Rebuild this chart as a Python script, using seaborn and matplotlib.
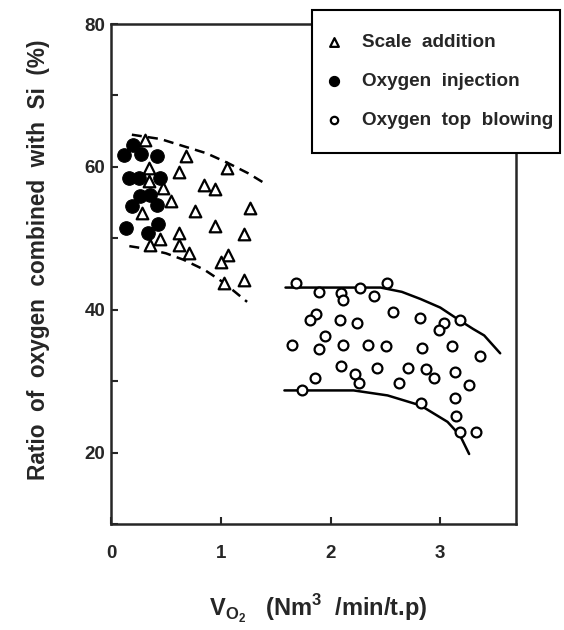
import pandas as pd
import seaborn as sns
import matplotlib.pyplot as plt
from matplotlib.patches import Rectangle

# Scale addition (open triangles)
scale_x = [0.31, 0.685, 0.35, 0.624, 1.057, 0.35, 0.472, 0.85, 0.95, 0.546, 0.28, 0.767,
           1.263, 0.95, 0.624, 1.215, 0.447, 0.356, 0.624, 0.715, 1.07, 1.0, 1.026, 1.215]
scale_y = [63.8, 61.5, 59.9, 59.3, 59.9, 58.0, 57.1, 57.4, 56.9, 55.2, 53.5, 53.8,
           54.2, 51.7, 50.8, 50.6, 49.9, 49.0, 49.1, 47.9, 47.7, 46.7, 43.8, 44.1]

# Oxygen injection (filled circles)
inj_x = [0.203, 0.119, 0.27, 0.417, 0.167, 0.258, 0.447, 0.26, 0.356, 0.19, 0.417, 0.137, 0.34, 0.432]
inj_y = [63.0, 61.6, 61.8, 61.5, 58.4, 58.4, 58.5, 55.9, 56.0, 54.5, 54.6, 51.5, 50.8, 52.0]

# Oxygen top blowing (open circles)
top_x = [1.689, 1.893, 2.098, 2.116, 2.268, 2.40, 2.511, 1.872, 1.817, 2.085, 2.237, 2.572,
         2.815, 3.03, 2.99, 3.18, 1.65, 1.954, 1.893, 2.116, 2.34, 2.502, 2.837, 3.11,
         3.364, 2.098, 1.863, 2.219, 2.258, 2.426, 2.624, 2.706, 2.868, 2.943, 3.132, 3.263,
         1.741, 2.822, 3.132, 3.14, 3.18, 3.324]
top_y = [43.7, 42.5, 42.4, 41.3, 43.1, 41.9, 43.8, 39.4, 38.6, 38.6, 38.2, 39.7,
         38.8, 38.2, 37.1, 38.5, 35.1, 36.3, 34.5, 35.0, 35.1, 34.9, 34.7, 34.9,
         33.5, 32.1, 30.5, 31.0, 29.7, 31.9, 29.7, 31.9, 31.7, 30.4, 31.3, 29.5,
         28.8, 27.0, 27.7, 25.1, 22.9, 22.9]

# envelope curves
dash_up_x = [0.19, 0.45, 0.66, 0.87, 1.057, 1.25, 1.41]
dash_up_y = [64.5, 63.9, 62.9, 61.9, 60.6, 59.1, 57.6]
dash_lo_x = [0.167, 0.33, 0.5, 0.66, 0.85, 1.026, 1.24]
dash_lo_y = [48.9, 48.5, 47.9, 47.0, 45.6, 43.8, 41.1]
solid_up_x = [1.59, 2.0, 2.457, 2.65, 2.82, 3.0, 3.157, 3.3, 3.4, 3.546]
solid_up_y = [43.1, 43.1, 43.1, 42.5, 41.5, 40.3, 38.7, 37.3, 36.4, 33.9]
solid_lo_x = [1.58, 1.9, 2.21, 2.52, 2.82, 3.066, 3.18, 3.263]
solid_lo_y = [28.7, 28.7, 28.7, 28.0, 26.6, 24.3, 22.4, 19.8]

sns.set_style('ticks')
plt.rcParams['font.family'] = ['Liberation Sans', 'DejaVu Sans']
plt.rcParams['font.weight'] = 'bold'
plt.rcParams['mathtext.fontset'] = 'custom'
plt.rcParams['mathtext.bf'] = 'Liberation Sans:bold'
plt.rcParams['mathtext.rm'] = 'Liberation Sans:bold'

fig = plt.figure(figsize=(5.64, 6.3), dpi=100)
ax = fig.add_axes([111 / 564, 1 - 524 / 630, (516 - 111) / 564, (524 - 24) / 630])

for xs, ys, ls in [(dash_up_x, dash_up_y, (0, (4, 2.5))), (dash_lo_x, dash_lo_y, (0, (4, 2.5))),
                   (solid_up_x, solid_up_y, '-'), (solid_lo_x, solid_lo_y, '-')]:
    sns.lineplot(x=xs, y=ys, ax=ax, color='black', lw=1.8, linestyle=ls,
                 estimator=None, sort=False)

sns.scatterplot(x=scale_x, y=scale_y, ax=ax, marker='^', s=70, facecolor='white',
                edgecolor='black', linewidth=1.6, label='Scale  addition', zorder=3)
sns.scatterplot(x=inj_x, y=inj_y, ax=ax, marker='o', s=95, color='black',
                edgecolor='black', label='Oxygen  injection', zorder=3)
sns.scatterplot(x=top_x, y=top_y, ax=ax, marker='o', s=50, facecolor='white',
                edgecolor='black', linewidth=1.6, label='Oxygen  top  blowing', zorder=3)

ax.set_xlim(0, 3.69)
ax.set_ylim(10, 80)
ax.set_xticks([0, 1, 2, 3])
ax.set_yticks([10, 20, 30, 40, 50, 60, 70, 80])
ax.set_yticklabels(['', '20', '', '40', '', '60', '', '80'])
ax.tick_params(direction='in', length=5, width=1.5, labelsize=13.5)
ax.tick_params(axis='x', pad=15)
ax.tick_params(axis='y', pad=4)
for sp in ax.spines.values():
    sp.set_linewidth(1.8)

ax.set_ylabel('Ratio  of  oxygen  combined  with  Si  (%)', fontsize=16.3, fontweight='bold')
ax.yaxis.set_label_coords(-0.15, 0.528)
ax.set_xlabel(r'$\mathbf{V}_{\mathbf{O_2}}$   (Nm$^{\mathbf{3}}$  /min/t.p)', fontsize=17,
              fontweight='bold')
ax.xaxis.set_label_coords(0.511, -0.137)

# legend box sits over the top right corner of the axes
handles, labels = ax.get_legend_handles_labels()
ax.get_legend().remove()
fig.patches.append(Rectangle((312 / 564, 1 - 153 / 630), 248 / 564, 143 / 630,
                             transform=fig.transFigure, facecolor='white',
                             edgecolor='black', linewidth=1.5, zorder=5))
leg = fig.legend(handles, labels, loc='upper left', bbox_to_anchor=(325 / 564, 1 - 34 / 630),
                 frameon=False, fontsize=13.6, markerscale=0.75, handletextpad=0.95,
                 labelspacing=1.15, borderpad=0, borderaxespad=0, handlelength=1.0)
leg.set_zorder(6)
for t in leg.get_texts():
    t.set_fontweight('bold')

fig.savefig('out.png', dpi=100)
